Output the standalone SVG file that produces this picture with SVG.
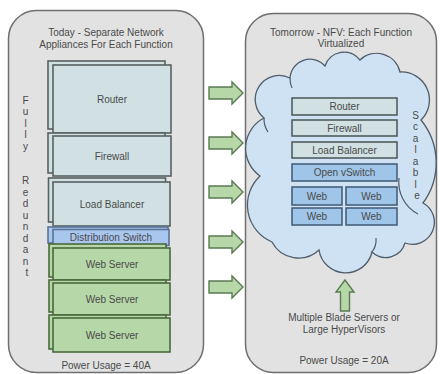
<svg xmlns="http://www.w3.org/2000/svg" width="440" height="374" viewBox="0 0 440 374">
  <style>
    text { font-family: "Liberation Sans", Arial, sans-serif; font-size: 10px; fill: #4a4a4a; text-anchor: middle; }
    .panel { fill: #e2e2e2; stroke: #6f6f6f; stroke-width: 1.5; }
    .appl { fill: #d0e0e3; stroke: #56625f; stroke-width: 1.6; }
    .dist { fill: #a9c6ef; stroke: #5b7396; stroke-width: 1.6; }
    .web { fill: #b6d7a8; stroke: #4a6a3c; stroke-width: 1.6; }
    .vfn { fill: #d0e0e3; stroke: #4a5656; stroke-width: 1.5; }
    .vsw { fill: #9fc5e8; stroke: #3f5a74; stroke-width: 1.5; }
    .arrow { fill: #b6d7a8; stroke: #5c7a52; stroke-width: 1.4; stroke-linejoin: miter; }
    .cloud { fill: #cfe2f3; stroke: #4f5d6b; stroke-width: 1.3; }
    .cloud-inner { fill: none; stroke: #4f5d6b; stroke-width: 1.2; }
  </style>

  <!-- Left panel: dedicated appliances -->
  <g id="today-panel">
    <rect class="panel" x="8.5" y="10.5" width="195" height="362" rx="28"/>
    <text x="106" y="36">Today - Separate Network</text>
    <text x="106" y="47.5">Appliances For Each Function</text>
    <text x="106" y="369">Power Usage = 40A</text>
    <text x="27">
      <tspan x="27" y="103.5">F</tspan>
      <tspan x="27" y="115">u</tspan>
      <tspan x="27" y="126.5">l</tspan>
      <tspan x="27" y="138">l</tspan>
      <tspan x="27" y="149.5">y</tspan>
      <tspan x="27" y="184">R</tspan>
      <tspan x="27" y="195.5">e</tspan>
      <tspan x="27" y="207">d</tspan>
      <tspan x="27" y="218.5">u</tspan>
      <tspan x="27" y="230">n</tspan>
      <tspan x="27" y="241.5">d</tspan>
      <tspan x="27" y="253">a</tspan>
      <tspan x="27" y="264.5">n</tspan>
      <tspan x="27" y="276">t</tspan>
    </text>
  </g>

  <g id="router">
    <rect class="appl" x="48" y="61" width="117" height="68"/>
    <rect class="appl" x="53" y="65" width="118" height="68"/>
    <text x="112" y="102.5">Router</text>
  </g>
  <g id="firewall">
    <rect class="appl" x="48" y="133" width="117" height="40"/>
    <rect class="appl" x="53" y="136" width="118" height="40"/>
    <text x="112" y="159.5">Firewall</text>
  </g>
  <g id="load-balancer">
    <rect class="appl" x="48.5" y="178" width="117" height="44"/>
    <rect class="appl" x="53" y="182" width="117" height="44"/>
    <text x="112" y="207.5">Load Balancer</text>
  </g>
  <g id="distribution-switch">
    <rect class="dist" x="48" y="227" width="120" height="16"/>
    <rect class="dist" x="53" y="229.5" width="116" height="16"/>
    <text x="111" y="241">Distribution Switch</text>
  </g>
  <g id="web-server-1">
    <rect class="web" x="49" y="244" width="117" height="33"/>
    <rect class="web" x="53" y="248" width="117" height="32"/>
    <text x="112" y="267.5">Web Server</text>
  </g>
  <g id="web-server-2">
    <rect class="web" x="49" y="280" width="117" height="32"/>
    <rect class="web" x="53" y="283" width="117" height="32"/>
    <text x="112" y="302.5">Web Server</text>
  </g>
  <g id="web-server-3">
    <rect class="web" x="49" y="315" width="117" height="34"/>
    <rect class="web" x="53" y="318" width="117" height="34"/>
    <text x="112" y="338.5">Web Server</text>
  </g>

  <!-- Right panel: virtualized functions -->
  <g id="tomorrow-panel">
    <rect class="panel" x="245.5" y="13.5" width="191" height="359" rx="28"/>
    <text x="341" y="36">Tomorrow - NFV: Each Function</text>
    <text x="341" y="47">Virtualized</text>
    <text x="344" y="321">Multiple Blade Servers or</text>
    <text x="344" y="332.5">Large HyperVisors</text>
    <text x="344" y="363.5">Power Usage = 20A</text>
  </g>

  <g id="cloud">
    <path class="cloud" d="M264,118
      A24,24 0 0 1 290,78
      A20,20 0 0 1 325,66
      A20,20 0 0 1 360,60
      A24,24 0 0 1 400,72
      A28,28 0 0 1 421,120
      A68,68 0 0 1 423,203
      A22,22 0 0 1 405,243
      A20,20 0 0 1 372,252
      A27,27 0 0 1 319,250
      A30,30 0 0 1 272,242
      A40,40 0 0 1 260,176
      A34,34 0 0 1 264,118 Z"/>
    <path class="cloud-inner" d="M264,118 A24,24 0 0 0 268,132"/>
    <path class="cloud-inner" d="M399,178 A36,36 0 0 0 418,214"/>
    <path class="cloud-inner" d="M372,252 A20,20 0 0 0 376,238"/>
    <path class="cloud-inner" d="M290,78 A22,22 0 0 0 292,88"/>
    <text x="417">
      <tspan x="417" y="118.5">S</tspan>
      <tspan x="417" y="130">c</tspan>
      <tspan x="417" y="141.5">a</tspan>
      <tspan x="417" y="153">l</tspan>
      <tspan x="417" y="164.5">a</tspan>
      <tspan x="417" y="176">b</tspan>
      <tspan x="417" y="187.5">l</tspan>
      <tspan x="417" y="199">e</tspan>
    </text>
  </g>

  <g id="v-router">
    <rect class="vfn" x="292" y="98" width="105" height="17"/>
    <text x="344.5" y="110">Router</text>
  </g>
  <g id="v-firewall">
    <rect class="vfn" x="292" y="120" width="105" height="16"/>
    <text x="344.5" y="131.5">Firewall</text>
  </g>
  <g id="v-load-balancer">
    <rect class="vfn" x="292" y="142" width="105" height="16"/>
    <text x="344.5" y="153.5">Load Balancer</text>
  </g>
  <g id="v-open-vswitch">
    <rect class="vsw" x="292" y="164" width="105" height="17"/>
    <text x="344.5" y="176">Open vSwitch</text>
  </g>
  <g id="v-web-1">
    <rect class="vsw" x="292" y="187" width="50" height="18"/>
    <text x="317" y="199.5">Web</text>
  </g>
  <g id="v-web-2">
    <rect class="vsw" x="346" y="187" width="51" height="18"/>
    <text x="371.5" y="199.5">Web</text>
  </g>
  <g id="v-web-3">
    <rect class="vsw" x="292" y="208" width="50" height="17"/>
    <text x="317" y="220">Web</text>
  </g>
  <g id="v-web-4">
    <rect class="vsw" x="346" y="208" width="51" height="17"/>
    <text x="371.5" y="220">Web</text>
  </g>

  <!-- Block arrows -->
  <g id="connectors">
    <polygon class="arrow" points="209,87 232,87 232,82 243,93 232,104 232,99 209,99"/>
    <polygon class="arrow" points="209,137 232,137 232,132 243,143 232,154 232,149 209,149"/>
    <polygon class="arrow" points="209,186 232,186 232,181 243,192 232,203 232,198 209,198"/>
    <polygon class="arrow" points="209,236 232,236 232,231 243,242 232,253 232,248 209,248"/>
    <polygon class="arrow" points="209,281 232,281 232,276 243,287 232,298 232,293 209,293"/>
    <polygon class="arrow" points="340.5,311 340.5,292 336,292 345,280 354,292 349.5,292 349.5,311"/>
  </g>
</svg>
